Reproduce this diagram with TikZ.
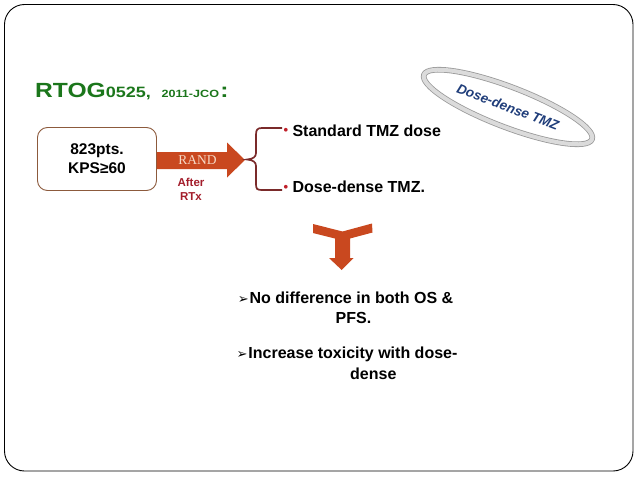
\documentclass[tikz,border=0pt]{standalone}
\usepackage{fontspec}
\usepackage{graphicx}
\setmainfont{Liberation Sans}
\newfontfamily\randfont{Liberation Serif}
\newfontfamily\symfont{DejaVu Sans}
\usepackage{tikz}
\usetikzlibrary{positioning,shapes.geometric}
\definecolor{titlegreen}{HTML}{1B761B}
\definecolor{boxbrown}{HTML}{8C5A3C}
\definecolor{arroworange}{HTML}{C9481F}
\definecolor{randtext}{HTML}{F6D9C6}
\definecolor{afterred}{HTML}{A31D2B}
\definecolor{bracered}{HTML}{7A2A2A}
\definecolor{dotred}{HTML}{C0202A}
\definecolor{ovalblue}{HTML}{1F3D7A}

\begin{document}
\begin{tikzpicture}[x=1pt,y=-1pt,inner sep=0pt,
  bold/.style={font=\bfseries\fontsize{16}{20}\selectfont},
  arm/.style={bold,anchor=base west},
  result/.style={bold,anchor=base}]
  \useasboundingbox (0,0) rectangle (638,479);
  \draw[line width=0.9pt,rounded corners=20pt] (4.5,4.5) rectangle (633,471);
  % title
  \node[anchor=base west,text=titlegreen,font=\bfseries] (title) at (35,97.5)
    {\scalebox{1.2}[1]{{\fontsize{20.5}{24}\selectfont RTOG}{\fontsize{15}{16}\selectfont 0525,}\hspace{9pt}{\fontsize{10.5}{12}\selectfont 2011-JCO}\hspace{1pt}{\fontsize{20.5}{24}\selectfont :}}};
  % patients
  \node[draw=boxbrown,fill=white,line width=0.9pt,rounded corners=10pt,minimum width=119pt,minimum height=63pt,
    align=center,font=\bfseries\fontsize{15.5}{19}\selectfont] (pts) at (97,159) {823pts.\\KPS≥60};
  % randomisation arrow
  \fill[arroworange] (pts.east |- 0,152) -- (227,152) -- (227,142.5) -- (245,160)
    -- (227,177.5) -- (227,169) -- (pts.east |- 0,169) -- cycle;
  \node[anchor=base,text=randtext,font=\randfont\fontsize{13.5}{16}\selectfont] (rand) at (197.5,164.3) {RAND};
  \node[anchor=base,text=afterred,align=center,font=\bfseries\fontsize{11.5}{14}\selectfont] (after) at (191,200) {After\\RTx};
  % brace
  \coordinate (tip) at (247,159.5);
  \draw[bracered,line width=1.7pt] (282,128) -- (262,128) .. controls (257,128) and (256,130) .. (256,135)
    -- (256,153) .. controls (256,157) and (253,159) .. (tip) .. controls (253,160) and (256,162) .. (256,166)
    -- (256,184) .. controls (256,189) and (257,190) .. (262,190) -- (282,190);
  % arms
  \node[arm] (std) at (283.3,136) {{\color{dotred}\fontsize{13}{14}\selectfont\raisebox{1.7pt}{•}}\hspace{4.5pt}Standard TMZ dose};
  \node[arm] (dd) at (283.3,192.7) {{\color{dotred}\fontsize{13}{14}\selectfont\raisebox{1.7pt}{•}}\hspace{4.5pt}Dose-dense TMZ.};
  % oval
  \node[ellipse,rotate=-21,minimum width=180pt,minimum height=40pt,draw=gray!80,line width=0.8pt,
    double=gray!28,double distance=4pt,fill=white,text=ovalblue,
    font=\bfseries\itshape\fontsize{13.5}{15}\selectfont] (oval) at (508,107) {Dose-dense TMZ};
  % merge arrow
  \fill[arroworange] (313,224) -- (342.5,231.5) -- (372,223.5) -- (372.5,232.5) -- (350,238.5)
    -- (350,258) -- (353.5,258) -- (341.7,270) -- (329,258) -- (335,258) -- (335,238.5)
    -- (313,233) -- cycle;
  % results
  \node[result] (res1a) at (345.5,303.3) {{\symfont\fontsize{13}{14}\selectfont ➢}\hspace{1pt}No difference in both OS \&};
  \node[result] (res1b) at (353.5,323.3) {PFS.};
  \node[result] (res2a) at (347,358.3) {{\symfont\fontsize{13}{14}\selectfont ➢}\hspace{1pt}Increase toxicity with dose-};
  \node[result] (res2b) at (373.3,379.3) {dense};
\end{tikzpicture}
\end{document}
